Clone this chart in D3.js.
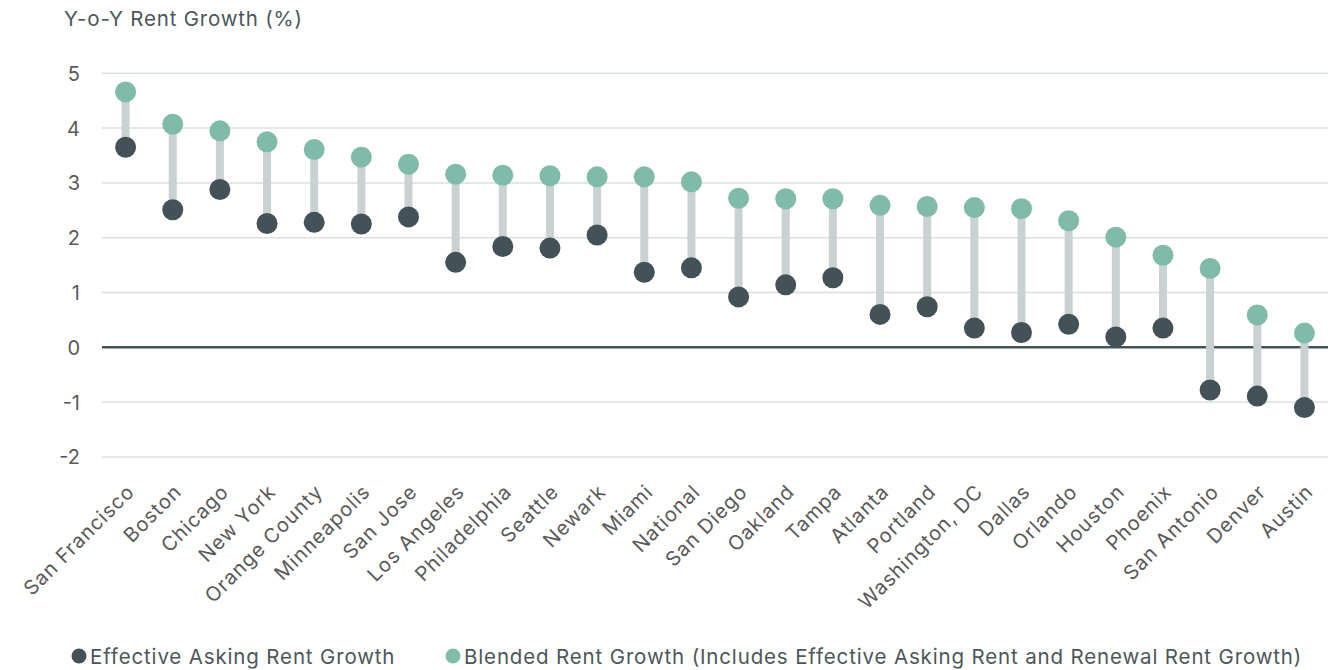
<!DOCTYPE html>
<html>
<head>
<meta charset="utf-8">
<script src="https://cdn.jsdelivr.net/npm/d3@7"></script>
<style>
  html, body { margin: 0; padding: 0; background: #ffffff; }
  svg { display: block; font-family: "Inter", "Open Sans", sans-serif; }
</style>
</head>
<body>
<svg id="chart" width="1340" height="670"></svg>
<script>
// Markets, ordered by blended rent growth
const markets = ["San Francisco", "Boston", "Chicago", "New York", "Orange County", "Minneapolis",
  "San Jose", "Los Angeles", "Philadelphia", "Seattle", "Newark", "Miami", "National", "San Diego",
  "Oakland", "Tampa", "Atlanta", "Portland", "Washington, DC", "Dallas", "Orlando", "Houston",
  "Phoenix", "San Antonio", "Denver", "Austin"];

// Effective asking rent growth, Y-o-Y %
const effectiveAsking = [3.65, 2.51, 2.88, 2.26, 2.28, 2.25, 2.38, 1.55, 1.84, 1.81, 2.05, 1.37, 1.45,
  0.92, 1.14, 1.27, 0.60, 0.74, 0.35, 0.27, 0.42, 0.19, 0.35, -0.78, -0.89, -1.10];

// Blended rent growth (effective asking + renewal), Y-o-Y %
const blended = [4.66, 4.07, 3.95, 3.75, 3.61, 3.47, 3.34, 3.16, 3.14, 3.13, 3.11, 3.11, 3.02,
  2.72, 2.71, 2.71, 2.59, 2.57, 2.55, 2.53, 2.31, 2.01, 1.68, 1.44, 0.59, 0.26];

const yTicks = [-2, -1, 0, 1, 2, 3, 4, 5];

const seriesNames = ["Effective Asking Rent Growth",
  "Blended Rent Growth (Includes Effective Asking Rent and Renewal Rent Growth)"];

const colors = { effective: "#435257", blended: "#80bbaa", stem: "#c9d1d3",
  grid: "#d8dfdf", zero: "#44555a", text: "#4c5759", tick: "#5a5a5a" };

const svg = d3.select("#chart");
const plot = { left: 102, right: 1328 };

const x = d3.scaleBand().domain(markets).range([plot.left, plot.right]).padding(0);
const y = d3.scaleLinear().domain([-2, 5]).range([456.9, 73.3]);

// Title
svg.append("text")
  .attr("x", 64).attr("y", 26)
  .attr("fill", colors.text)
  .attr("font-size", 20.5)
  .attr("letter-spacing", 0.8)
  .text("Y-o-Y Rent Growth (%)");

// Gridlines
svg.append("g").selectAll("line")
  .data(yTicks.filter(d => d !== 0))
  .join("line")
  .attr("x1", plot.left).attr("x2", plot.right)
  .attr("y1", d => y(d)).attr("y2", d => y(d))
  .attr("stroke", colors.grid).attr("stroke-width", 1.5);

// Zero baseline
svg.append("line")
  .attr("x1", plot.left).attr("x2", plot.right)
  .attr("y1", y(0)).attr("y2", y(0))
  .attr("stroke", colors.zero).attr("stroke-width", 2.5);

// Y axis labels
const yAxis = d3.axisLeft(y).tickValues(yTicks).tickSize(0).tickPadding(0)
  .tickFormat(d => d < 0 ? "-" + Math.abs(d) : String(d));
const yG = svg.append("g").attr("transform", "translate(80,0)").call(yAxis);
yG.select(".domain").remove();
yG.selectAll("text")
  .attr("fill", colors.tick)
  .attr("font-size", 20)
  .attr("font-family", "Inter, sans-serif")
  .attr("dy", "0.35em");

// X axis labels, rotated
const xAxis = d3.axisBottom(x).tickSize(0).tickPadding(0);
const xG = svg.append("g").call(xAxis);
xG.select(".domain").remove();
xG.selectAll(".tick").attr("transform", d => `translate(${x(d) + x.bandwidth() / 2 + 10},493)`);
xG.selectAll("text")
  .attr("fill", colors.tick)
  .attr("font-size", 20)
  .attr("letter-spacing", 1)
  .attr("font-family", "Inter, sans-serif")
  .attr("text-anchor", "end")
  .attr("x", 0).attr("y", 0).attr("dy", 0)
  .attr("transform", "rotate(-45)");

const cx = d => x(d) + x.bandwidth() / 2;
const rows = markets.map((m, i) => ({ m, e: effectiveAsking[i], b: blended[i] }));

// Stems connecting the two series
svg.append("g").selectAll("line")
  .data(rows)
  .join("line")
  .attr("x1", d => cx(d.m)).attr("x2", d => cx(d.m))
  .attr("y1", d => y(d.e)).attr("y2", d => y(d.b))
  .attr("stroke", colors.stem).attr("stroke-width", 8);

// Effective asking dots
svg.append("g").selectAll("circle")
  .data(rows)
  .join("circle")
  .attr("cx", d => cx(d.m)).attr("cy", d => y(d.e)).attr("r", 10.5)
  .attr("fill", colors.effective);

// Blended dots
svg.append("g").selectAll("circle")
  .data(rows)
  .join("circle")
  .attr("cx", d => cx(d.m)).attr("cy", d => y(d.b)).attr("r", 10.5)
  .attr("fill", colors.blended);

// Legend
const legend = [
  { name: seriesNames[0], color: colors.effective, dx: 79 },
  { name: seriesNames[1], color: colors.blended, dx: 453 }
];
const lg = svg.append("g").selectAll("g").data(legend).join("g")
  .attr("transform", d => `translate(${d.dx},656)`);
lg.append("circle").attr("r", 7.5).attr("fill", d => d.color);
lg.append("text")
  .attr("x", 11).attr("y", 7.5)
  .attr("fill", colors.text)
  .attr("font-size", 20.5)
  .attr("letter-spacing", 0.85)
  .text(d => d.name);
</script>
</body>
</html>
